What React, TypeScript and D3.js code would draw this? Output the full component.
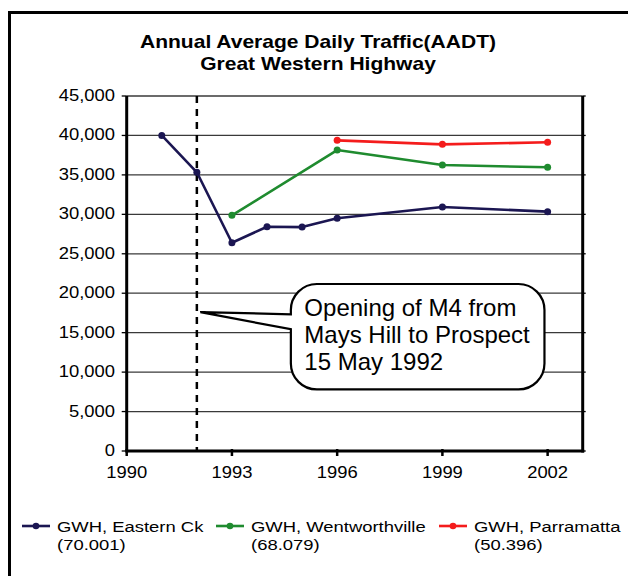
import React from 'react';
import * as d3 from 'd3';

// chart data
const easternYears = [1991, 1992, 1993, 1994, 1995, 1996, 1999, 2002];
const easternValues = [40000, 35330, 26400, 28430, 28380, 29500, 30930, 30340];
const wentYears = [1993, 1996, 1999, 2002];
const wentValues = [29870, 38150, 36250, 35960];
const parraYears = [1996, 1999, 2002];
const parraValues = [39380, 38870, 39130];

const xTicks = [1990, 1993, 1996, 1999, 2002];
const yTicks = [0, 5000, 10000, 15000, 20000, 25000, 30000, 35000, 40000, 45000];

const seriesNames = ['GWH, Eastern Ck', 'GWH, Wentworthville', 'GWH, Parramatta'];
const seriesLengths = ['(70.001)', '(68.079)', '(50.396)'];
const seriesColors = ['#1b1652', '#1f8b2f', '#f41c1c'];

const markerYear = 1992;
const calloutLines = ['Opening of M4 from', 'Mays Hill to Prospect', '15 May 1992'];
// annotation anchor and box in data units
const calloutTip = { year: 1992.1, value: 17600 };
const calloutBox = { x0: 1994.68, x1: 2001.91, top: 21170, bottom: 7800, base1: 17330, base2: 15430 };

const W = 628;
const H = 576;
const FONT = '"Liberation Sans", Arial, sans-serif';

function SText({ x, y, sx = 1, size, anchor = 'start', weight = 'normal', children }: any) {
  return (
    <text
      transform={`translate(${x},${y}) scale(${sx},1)`}
      textAnchor={anchor}
      fontSize={size}
      fontWeight={weight}
      fontFamily={FONT}
      fill="#000"
    >
      {children}
    </text>
  );
}

export default function App() {
  const left = 126.7;
  const right = 582.7;
  const top = 96;
  const bottom = 451;

  const x = d3.scaleLinear().domain([1990, 2003]).range([left, right]);
  const y = d3.scaleLinear().domain([0, 45000]).range([bottom, top]);
  const fmt = d3.format(',');

  const series = [
    { years: easternYears, values: easternValues },
    { years: wentYears, values: wentValues },
    { years: parraYears, values: parraValues },
  ];

  const line = d3
    .line<[number, number]>()
    .x((d) => x(d[0]))
    .y((d) => y(d[1]));

  // callout shape
  const bl = x(calloutBox.x0);
  const br = x(calloutBox.x1);
  const bt = y(calloutBox.top);
  const bb = y(calloutBox.bottom);
  const r = 26;
  const tipX = x(calloutTip.year);
  const tipY = y(calloutTip.value);
  const calloutPath = [
    `M${bl + r},${bt}`,
    `H${br - r}`,
    `A${r},${r} 0 0 1 ${br},${bt + r}`,
    `V${bb - r}`,
    `A${r},${r} 0 0 1 ${br - r},${bb}`,
    `H${bl + r}`,
    `A${r},${r} 0 0 1 ${bl},${bb - r}`,
    `V${y(calloutBox.base2)}`,
    `L${tipX},${tipY}`,
    `L${bl},${y(calloutBox.base1)}`,
    `V${bt + r}`,
    `A${r},${r} 0 0 1 ${bl + r},${bt}`,
    'Z',
  ].join(' ');

  const legendX = [22, 216, 439];

  return (
    <svg width={W} height={H} style={{ position: 'absolute', left: 0, top: 0, display: 'block', background: '#fff' }}>
      {/* outer frame */}
      <rect x={9.5} y={12.5} width={800} height={800} fill="none" stroke="#000" strokeWidth={3} />

      {/* title */}
      <SText x={318} y={48.3} sx={1.12} size={18.8} anchor="middle" weight="bold">
        Annual Average Daily Traffic(AADT)
      </SText>
      <SText x={318} y={70} sx={1.12} size={18.8} anchor="middle" weight="bold">
        Great Western Highway
      </SText>

      {/* gridlines */}
      {yTicks.map((t) => (
        <line key={t} x1={left} x2={right} y1={y(t)} y2={y(t)} stroke="#3a3a3a" strokeWidth={1.3} />
      ))}

      {/* y ticks and labels */}
      {yTicks.map((t) => (
        <g key={'yt' + t}>
          <line x1={left - 5} x2={left} y1={y(t)} y2={y(t)} stroke="#000" strokeWidth={1.3} />
          <line x1={right} x2={right + 3} y1={y(t)} y2={y(t)} stroke="#000" strokeWidth={1.3} />
          <SText x={115} y={y(t) + 5} sx={1.15} size={16} anchor="end">
            {fmt(t)}
          </SText>
        </g>
      ))}

      {/* x ticks and labels */}
      {xTicks.map((t) => (
        <g key={'xt' + t}>
          <line x1={x(t)} x2={x(t)} y1={bottom - 2} y2={bottom + 5} stroke="#000" strokeWidth={2.5} />
          <SText x={x(t)} y={477.7} sx={1.15} size={16} anchor="middle">
            {t}
          </SText>
        </g>
      ))}

      {/* axes */}
      <line x1={left} x2={left} y1={top} y2={bottom + 1.5} stroke="#000" strokeWidth={3} />
      <line x1={right} x2={right} y1={top} y2={bottom + 1.5} stroke="#000" strokeWidth={3} />
      <line x1={left} x2={right + 1.5} y1={bottom} y2={bottom} stroke="#000" strokeWidth={3} />

      {/* M4 opening marker */}
      <line
        x1={x(markerYear)}
        x2={x(markerYear)}
        y1={top}
        y2={bottom}
        stroke="#000"
        strokeWidth={2.5}
        strokeDasharray="7,6"
      />

      {/* series */}
      {series.map((s, i) => {
        const pts = s.years.map((yr, j) => [yr, s.values[j]] as [number, number]);
        return (
          <g key={i}>
            <path d={line(pts) || ''} fill="none" stroke={seriesColors[i]} strokeWidth={2.6} strokeLinejoin="round" />
            {pts.map((p, j) => (
              <circle key={j} cx={x(p[0])} cy={y(p[1])} r={3.5} fill={seriesColors[i]} />
            ))}
          </g>
        );
      })}

      {/* callout */}
      <path d={calloutPath} fill="#fff" stroke="#000" strokeWidth={2.2} strokeLinejoin="miter" />
      {calloutLines.map((l, i) => (
        <SText key={i} x={bl + 13.5} y={bt + 32 + i * 27} size={24}>
          {l}
        </SText>
      ))}

      {/* legend */}
      {seriesNames.map((n, i) => (
        <g key={n}>
          <line x1={legendX[i]} x2={legendX[i] + 28} y1={526} y2={526} stroke={seriesColors[i]} strokeWidth={2.6} />
          <circle cx={legendX[i] + 14} cy={526} r={3.3} fill={seriesColors[i]} />
          <SText x={legendX[i] + 35} y={532} sx={1.19} size={15.5}>
            {n}
          </SText>
          <SText x={legendX[i] + 35} y={550} sx={1.19} size={15.5}>
            {seriesLengths[i]}
          </SText>
        </g>
      ))}
    </svg>
  );
}
